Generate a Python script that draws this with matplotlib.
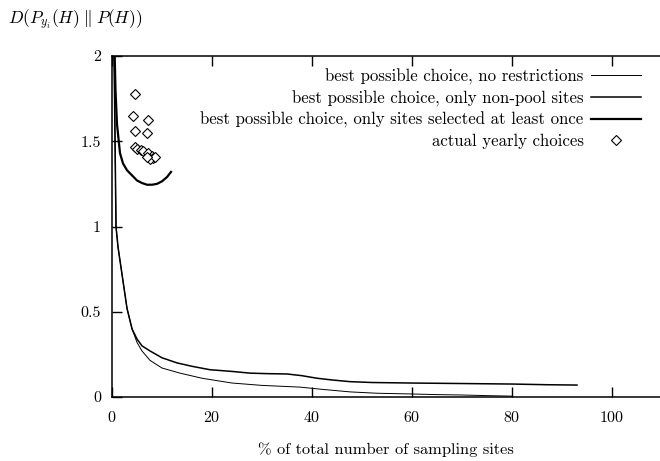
import matplotlib
matplotlib.use('Agg')
import matplotlib.pyplot as plt

plt.rcParams['font.family'] = 'cmr10'
plt.rcParams['mathtext.fontset'] = 'cm'
plt.rcParams['axes.formatter.use_mathtext'] = True

# best possible choice, no restrictions
free_x = [0.4, 0.8, 1.2, 2, 3, 4, 5, 6, 7.6, 10, 13.6, 18, 24, 30, 37.6, 42, 47.6, 53, 59.6, 65, 69.6, 75, 80]
free_y = [2.05, 1.0, 0.88, 0.72, 0.52, 0.40, 0.32, 0.27, 0.215, 0.17, 0.14, 0.11, 0.082, 0.068, 0.058,
          0.045, 0.03, 0.022, 0.018, 0.014, 0.012, 0.008, 0.005]

# best possible choice, only non-pool sites
nonpool_x = [0.4, 0.8, 1.2, 2, 3, 4, 5, 6, 7.6, 10, 13, 16, 19.6, 24, 27.6, 31, 35, 38, 41, 44, 47.6,
             52, 59.6, 70, 80, 87, 93]
nonpool_y = [2.05, 1.0, 0.88, 0.72, 0.52, 0.40, 0.34, 0.30, 0.27, 0.23, 0.20, 0.18, 0.16, 0.15, 0.14,
             0.137, 0.135, 0.125, 0.11, 0.10, 0.09, 0.085, 0.082, 0.079, 0.076, 0.072, 0.07]

# best possible choice, only sites selected at least once
once_x = [0.5, 0.7, 1.0, 1.6, 2.2, 3, 4, 5, 6, 7, 8, 9, 10, 11, 11.8]
once_y = [2.05, 1.8, 1.6, 1.43, 1.37, 1.33, 1.3, 1.27, 1.255, 1.245, 1.245, 1.25, 1.265, 1.29, 1.32]

# actual yearly choices
year_x = [4.6, 4.1, 7.1, 4.6, 6.9, 4.6, 4.9, 5.7, 6.2, 7.2, 7.9, 8.2, 7.6, 8.6, 6.9]
year_y = [1.777, 1.648, 1.625, 1.562, 1.55, 1.468, 1.455, 1.449, 1.44, 1.43, 1.413, 1.40, 1.395, 1.41, 1.405]

fig = plt.figure(figsize=(6.6, 4.61), dpi=100)
ax = fig.add_axes([112 / 660, 1 - 397 / 461, 1 - 112 / 660, (397 - 56) / 461])

ax.plot(free_x, free_y, color='black', lw=0.7, label='best possible choice, no restrictions')
ax.plot(nonpool_x, nonpool_y, color='black', lw=1.1, label='best possible choice, only non-pool sites')
ax.plot(once_x, once_y, color='black', lw=1.6, label='best possible choice, only sites selected at least once')
ax.plot(year_x, year_y, ls='none', marker='D', ms=5, mfc='white', mec='black', mew=0.8,
        label='actual yearly choices')

ax.set_xlim(0, 109.6)
ax.set_ylim(0, 2)
ax.set_xticks([0, 20, 40, 60, 80, 100])
ax.set_yticks([0, 0.5, 1, 1.5, 2])
ax.set_yticklabels(['0', '0.5', '1', '1.5', '2'])
ax.tick_params(direction='in', length=7, width=1, top=True, right=False, labelsize=11.5, pad=9)
ax.tick_params(axis='y', pad=8)
ax.spines['right'].set_visible(False)
for s in ('left', 'bottom', 'top'):
    ax.spines[s].set_linewidth(1.1)

ax.set_xlabel('% of total number of sampling sites', fontsize=11.8, labelpad=13)
fig.text(8 / 660, 1 - 20 / 461, r'$D(P_{y_i}(H)\;\|\;P(H))$', fontsize=12.5, va='center', ha='left')

ax.legend(loc='upper right', bbox_to_anchor=(641 / 660, 1 - 68.5 / 461), bbox_transform=fig.transFigure,
          frameon=False, markerfirst=False, fontsize=12.1, handlelength=3.0, handletextpad=0.42,
          labelspacing=0.33, borderpad=0, borderaxespad=0)

fig.savefig('out.png', dpi=100)
